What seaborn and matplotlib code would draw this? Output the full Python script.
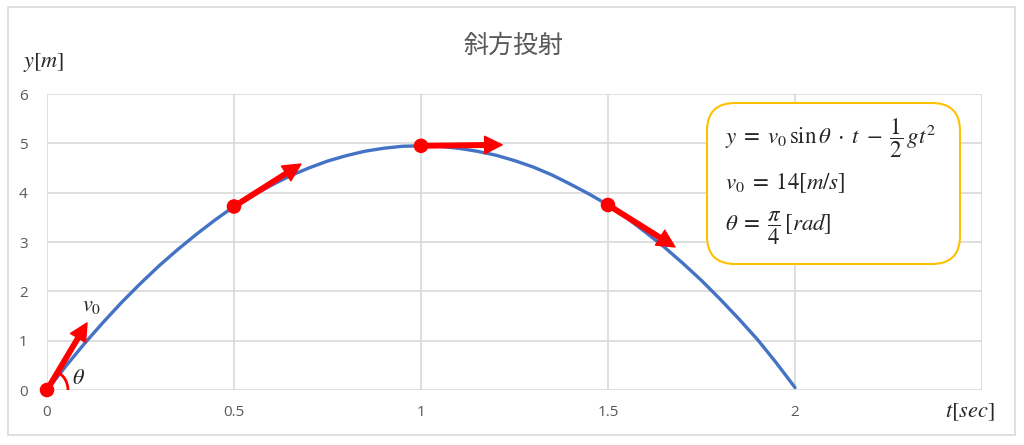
import numpy as np
import pandas as pd
import seaborn as sns
import matplotlib
matplotlib.use("Agg")
import matplotlib.pyplot as plt
from matplotlib.patches import FancyBboxPatch, Rectangle, Arc
from matplotlib import transforms

# values
t_sec = [0.00, 0.05, 0.10, 0.15, 0.20, 0.25, 0.30, 0.35, 0.40, 0.45, 0.50,
         0.55, 0.60, 0.65, 0.70, 0.75, 0.80, 0.85, 0.90, 0.95, 1.00,
         1.05, 1.10, 1.15, 1.20, 1.25, 1.30, 1.35, 1.40, 1.45, 1.50,
         1.55, 1.60, 1.65, 1.70, 1.75, 1.80, 1.85, 1.90, 1.95, 2.00]
y_m = [0.00, 0.48, 0.94, 1.37, 1.78, 2.16, 2.52, 2.85, 3.16, 3.45, 3.72,
       3.94, 4.15, 4.34, 4.50, 4.64, 4.75, 4.84, 4.90, 4.94, 4.95,
       4.94, 4.90, 4.84, 4.76, 4.65, 4.52, 4.36, 4.17, 3.97, 3.75,
       3.49, 3.20, 2.90, 2.57, 2.22, 1.84, 1.44, 1.02, 0.55, 0.05]

dot_t = [0.0, 0.5, 1.0, 1.5]
dot_y = [0.0, 3.72, 4.95, 3.75]
arrow_tip_t = [0.107, 0.679, 1.217, 1.679]
arrow_tip_y = [1.36, 4.58, 4.97, 2.90]

x_ticks = [0, 0.5, 1, 1.5, 2, 2.5]
x_tick_labels = ["0", "0.5", "1", "1.5", "2", ""]
y_ticks = [0, 1, 2, 3, 4, 5, 6]

title = "斜方投射"
formula_lines = [r"$y\;=\;v_0\,\sin\theta\;\cdot\;t\;-\;\dfrac{1}{2}\,gt^2$",
                 r"$v_0\;=\;14[m/s]$",
                 r"$\theta\;=\;\dfrac{\pi}{4}\,[rad]$"]

sns.set_theme(style="whitegrid")
plt.rcParams["font.family"] = ["Open Sans", "Noto Sans CJK JP", "DejaVu Sans"]
plt.rcParams["mathtext.fontset"] = "stix"

curve = pd.DataFrame({"t": t_sec, "y": y_m})
dots = pd.DataFrame({"t": dot_t, "y": dot_y})

fig = plt.figure(figsize=(10.24, 4.45), dpi=100)
ax = fig.add_axes([47 / 1024, 55 / 445, 935 / 1024, 296 / 445])
ax.set_facecolor("white")

sns.lineplot(data=curve, x="t", y="y", ax=ax, color="#4472C4", linewidth=2.4,
             zorder=3, solid_joinstyle="round")

for t0, y0, t1, y1 in zip(dot_t, dot_y, arrow_tip_t, arrow_tip_y):
    ax.annotate("", xy=(t1, y1), xytext=(t0, y0),
                arrowprops=dict(arrowstyle="simple,head_length=0.7,head_width=0.7,tail_width=0.18",
                                mutation_scale=18, color="#FF0000", shrinkA=0, shrinkB=0),
                zorder=4, annotation_clip=False)

sns.scatterplot(data=dots, x="t", y="y", ax=ax, color="#FF0000", s=110,
                edgecolor="none", zorder=5, clip_on=False)

ax.set_xlim(0, 2.5)
ax.set_ylim(0, 6)
ax.set_xticks(x_ticks)
ax.set_xticklabels(x_tick_labels)
ax.set_yticks(y_ticks)
ax.tick_params(axis="both", length=0, labelsize=11, labelcolor="#595959")
ax.tick_params(axis="x", pad=11)
ax.tick_params(axis="y", pad=14)
ax.grid(True, color="#D9D9D9", linewidth=1.2)
for s in ax.spines.values():
    s.set_visible(False)
ax.set_xlabel("")
ax.set_ylabel("")

# angle arc at origin
arc_trans = fig.dpi_scale_trans + transforms.ScaledTranslation(0, 0, ax.transData)
ax.add_patch(Arc((0, 0), 0.42, 0.42, theta1=0, theta2=58, color="#FF0000",
                 linewidth=2, transform=arc_trans, clip_on=False, zorder=4))

fig.text(79 / 1024, 1 - 378 / 445, r"$\theta$", fontsize=16, ha="center", va="center")
fig.text(92 / 1024, 1 - 305 / 445, r"$v_0$", fontsize=16, ha="center", va="center")
fig.text(44 / 1024, 1 - 62 / 445, r"$y[m]$", fontsize=16, ha="center", va="center")
fig.text(970 / 1024, 1 - 412 / 445, r"$t[sec]$", fontsize=16, ha="center", va="center")

fig.text(514 / 1024, 1 - 46 / 445, title, fontsize=18, color="#595959",
         ha="center", va="center", family=["Noto Sans CJK JP", "DejaVu Sans"])

# formula box
box = FancyBboxPatch((7.07, 1.81), 2.53, 1.61,
                     boxstyle="round,pad=0,rounding_size=0.28",
                     transform=fig.dpi_scale_trans, facecolor="white",
                     edgecolor="#FFC000", linewidth=1.5, zorder=6)
fig.add_artist(box)
for line, ypx in zip(formula_lines, [138, 183, 228]):
    fig.text(725 / 1024, 1 - ypx / 445, line, fontsize=16.5, ha="left",
             va="center", zorder=7)

# chart border
fig.add_artist(Rectangle((0.08, 0.10), 10.07, 4.28, transform=fig.dpi_scale_trans,
                         fill=False, edgecolor="#D9D9D9", linewidth=1.2))

fig.savefig("out.png", dpi=100)
